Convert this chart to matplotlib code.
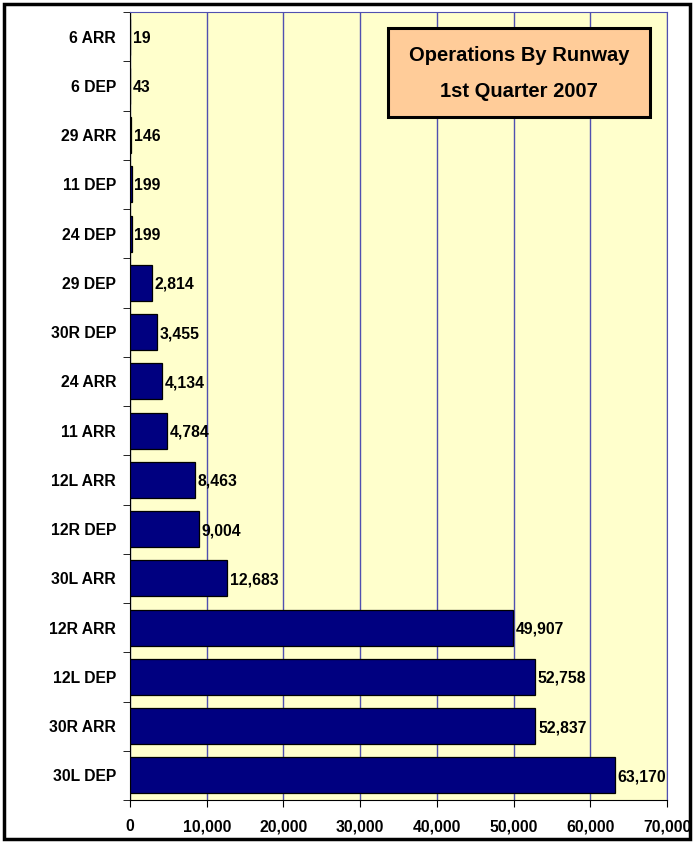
"""
Operations by runway, 1st quarter 2007 - horizontal bar chart.
Saves out.png.
"""

import matplotlib.pyplot as plt
from matplotlib.patches import Rectangle
from matplotlib.ticker import FuncFormatter, FixedLocator


runways = [
    "6 ARR", "6 DEP", "29 ARR", "11 DEP", "24 DEP", "29 DEP", "30R DEP",
    "24 ARR", "11 ARR", "12L ARR", "12R DEP", "30L ARR", "12R ARR",
    "12L DEP", "30R ARR", "30L DEP",
]
operations = [
    19, 43, 146, 199, 199, 2814, 3455, 4134, 4784, 8463, 9004, 12683,
    49907, 52758, 52837, 63170,
]
x_ticks = [0, 10000, 20000, 30000, 40000, 50000, 60000, 70000]
title_lines = ["Operations By Runway", "1st Quarter 2007"]

plt.rcParams["font.family"] = ["Liberation Sans", "DejaVu Sans"]
plt.rcParams["font.weight"] = "bold"

fig = plt.figure(figsize=(6.94, 8.43), dpi=100)
ax = fig.add_axes([130 / 694, 43 / 843, 537 / 694, 788 / 843])

# outer chart border
fig.patches.append(Rectangle((4 / 694, 4 / 843), 686 / 694, 835 / 843,
                             transform=fig.transFigure, fill=False,
                             edgecolor="black", linewidth=2.5))

ax.set_facecolor("#FFFFCC")
positions = list(range(len(runways)))
ax.barh(positions, operations, height=0.73, color="#000080",
        edgecolor="black", linewidth=0.9, zorder=3)

for pos, val in zip(positions, operations):
    ax.text(val + 350, pos + 0.03, f"{val:,}", va="center", ha="left",
            fontsize=11.3, fontweight="bold", zorder=4)

ax.set_xlim(0, 70000)
ax.set_ylim(len(runways) - 0.5, -0.5)
ax.set_xticks(x_ticks)
ax.xaxis.set_major_formatter(FuncFormatter(lambda v, _: f"{int(v):,}"))
ax.tick_params(axis="x", direction="out", length=5, pad=9, labelsize=11.3)

ax.set_yticks(positions)
ax.set_yticklabels(runways)
ax.tick_params(axis="y", which="major", length=0, pad=10, labelsize=11.3)
ax.yaxis.set_minor_locator(FixedLocator([p - 0.5 for p in range(len(runways) + 1)]))
ax.tick_params(axis="y", which="minor", direction="out", length=5)

ax.grid(axis="x", color="#5050B0", linewidth=1.0, zorder=1)
ax.set_axisbelow(True)

ax.spines["left"].set_color("black")
ax.spines["bottom"].set_color("black")
ax.spines["top"].set_color("#5050B0")
ax.spines["right"].set_color("#5050B0")

# title box
ax.add_patch(Rectangle((0.480, 0.8668), 0.488, 0.1129, transform=ax.transAxes,
                       facecolor="#FFCC99", edgecolor="black", linewidth=2.2,
                       zorder=5))
ax.text(0.7244, 0.9454, title_lines[0], transform=ax.transAxes, ha="center",
        va="center", fontsize=14.5, fontweight="bold", zorder=6)
ax.text(0.7244, 0.8997, title_lines[1], transform=ax.transAxes, ha="center",
        va="center", fontsize=14.5, fontweight="bold", zorder=6)

fig.savefig("out.png", dpi=100)
